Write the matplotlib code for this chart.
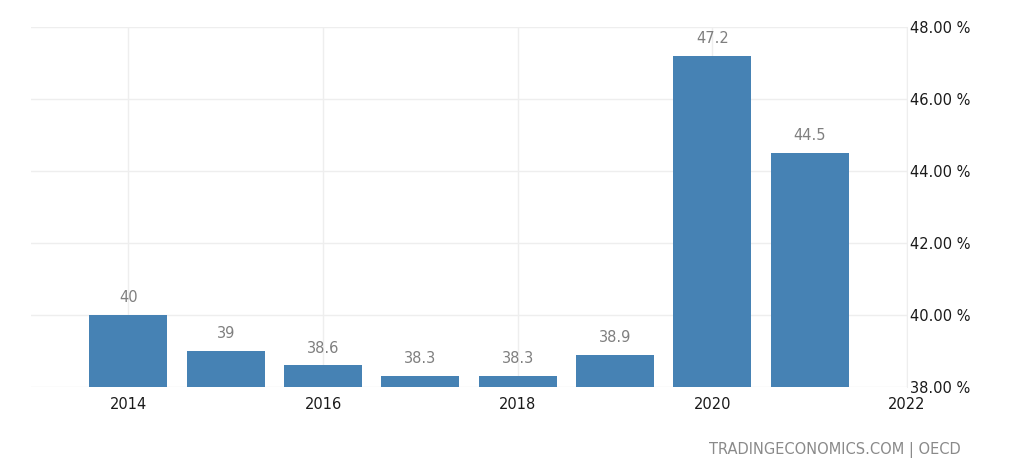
import matplotlib.pyplot as plt

plt.rcParams["font.family"] = ["DejaVu Sans"]

# Data
years = [2014, 2015, 2016, 2017, 2018, 2019, 2020, 2021]
values = [40, 39, 38.6, 38.3, 38.3, 38.9, 47.2, 44.5]
labels = ["40", "39", "38.6", "38.3", "38.3", "38.9", "47.2", "44.5"]
xticks = [2014, 2016, 2018, 2020, 2022]
yticks = [38, 40, 42, 44, 46, 48]

fig = plt.figure(figsize=(10.24, 4.76), dpi=100)
ax = fig.add_axes([0.0303, 0.187, 0.8555, 0.756])

ax.bar(years, [v - 38 for v in values], bottom=38, width=0.8, color="#4682b4", zorder=2)

# Value labels above bars
for x, v, t in zip(years, values, labels):
    ax.annotate(t, (x, v), xytext=(0, 7), textcoords="offset points",
                ha="center", va="bottom", fontsize=10.5, color="#7f7f7f")

ax.set_xlim(2013.0, 2022)
ax.set_ylim(38, 48)
ax.set_xticks(xticks)
ax.set_yticks(yticks)
ax.set_yticklabels(["%.2f %%" % y for y in yticks])
ax.yaxis.tick_right()
ax.tick_params(axis="both", length=0, labelsize=10.5, colors="#1a1a1a")
ax.tick_params(axis="y", pad=2)
ax.tick_params(axis="x", pad=7)

ax.grid(True, color="#eeeeee", linewidth=1, zorder=0)
ax.set_axisbelow(True)
for s in ["top", "left", "bottom"]:
    ax.spines[s].set_visible(False)
ax.spines["right"].set_color("#eeeeee")

fig.text(0.938, 0.037, "TRADINGECONOMICS.COM | OECD", ha="right", va="bottom",
         fontsize=10.5, color="#8a8a8a")

fig.savefig("out.png", dpi=100)
